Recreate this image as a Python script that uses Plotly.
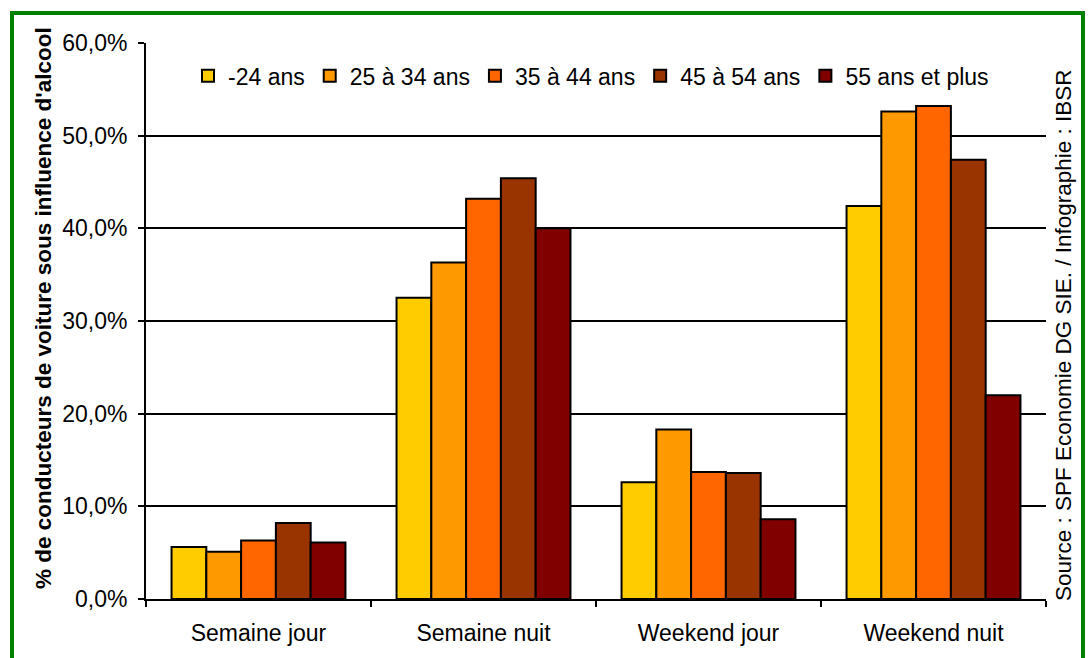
import plotly.graph_objects as go

# Share of car drivers under the influence of alcohol, by period and age group (%)
periods = ["Semaine jour", "Semaine nuit", "Weekend jour", "Weekend nuit"]
age_groups = ["-24 ans", "25 à 34 ans", "35 à 44 ans", "45 à 54 ans", "55 ans et plus"]

under_24 = [5.6, 32.5, 12.6, 42.4]
age_25_34 = [5.1, 36.3, 18.3, 52.6]
age_35_44 = [6.3, 43.2, 13.7, 53.2]
age_45_54 = [8.2, 45.4, 13.6, 47.4]
age_55_plus = [6.1, 40.0, 8.6, 22.0]

series = [under_24, age_25_34, age_35_44, age_45_54, age_55_plus]
colors = ["#FFCC00", "#FF9900", "#FF6600", "#993300", "#800000"]

y_title = "% de conducteurs de voiture sous influence d'alcool"
source_note = "Source : SPF Economie DG SIE. / Infographie : IBSR"

W, H = 1089, 658
ML, MR, MT, MB = 146, 43, 43, 57
PW, PH = W - ML - MR, H - MT - MB


def px_x(px):
    return (px - ML) / PW


def px_y(py):
    return (H - MB - py) / PH


FONT = "Liberation Sans, Arial, sans-serif"

fig = go.Figure()
for name, vals, col in zip(age_groups, series, colors):
    fig.add_trace(go.Bar(
        name=name, x=periods, y=vals,
        marker=dict(color=col, line=dict(color="black", width=2)),
    ))

fig.update_layout(
    width=W, height=H,
    margin=dict(l=ML, r=MR, t=MT, b=MB, pad=0),
    paper_bgcolor="white", plot_bgcolor="white",
    barmode="group", bargap=0.227, bargroupgap=0,
    separators=",.",
    font=dict(family=FONT, size=23, color="black"),
    showlegend=True,
    legend=dict(
        orientation="h", x=px_x(188), xanchor="left",
        y=px_y(76), yanchor="middle",
        bgcolor="rgba(0,0,0,0)", font=dict(size=23),
        itemclick=False, traceorder="normal",
    ),
    xaxis=dict(
        showline=True, linecolor="black", linewidth=2,
        ticks="outside", tickson="boundaries", ticklen=6, tickwidth=2,
        tickcolor="black", showgrid=False,
        ticklabelstandoff=12,
        tickfont=dict(size=23),
    ),
    yaxis=dict(
        range=[0, 60], dtick=10, tickformat=".1f", ticksuffix="%",
        showline=True, linecolor="black", linewidth=2,
        showgrid=True, gridcolor="black", gridwidth=2,
        zeroline=False,
        ticks="outside", ticklen=6, tickwidth=2, tickcolor="black",
        ticklabelstandoff=6,
        tickfont=dict(size=23),
    ),
    shapes=[
        dict(type="rect", xref="paper", yref="paper", layer="below",
             x0=px_x(12), x1=px_x(1083), y0=px_y(700), y1=px_y(13),
             line=dict(color="#008000", width=4), fillcolor="rgba(0,0,0,0)"),
    ],
    annotations=[
        dict(text="<b>" + y_title + "</b>", xref="paper", yref="paper",
             x=px_x(43), y=px_y(309), xanchor="center", yanchor="middle",
             textangle=-90, showarrow=False, font=dict(size=22.5)),
        dict(text=source_note, xref="paper", yref="paper",
             x=px_x(1064), y=px_y(336), xanchor="center", yanchor="middle",
             textangle=-90, showarrow=False, font=dict(size=22.5)),
    ],
)

fig.write_html("out.html")
